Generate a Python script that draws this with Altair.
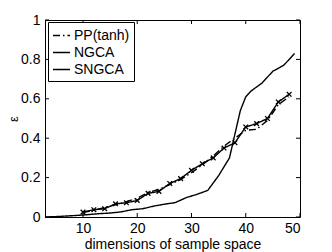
import altair as alt
import pandas as pd

FONT = "Liberation Sans"

series_order = ["PP(tanh)", "NGCA", "SNGCA"]

x_even = [10, 12, 14, 16, 18, 20, 22, 24, 26, 28, 30, 32, 34, 36, 38, 40, 42, 44, 46, 48]
ngca_y = [0.025, 0.037, 0.042, 0.067, 0.072, 0.084, 0.12, 0.13, 0.17, 0.195,
          0.237, 0.27, 0.30, 0.35, 0.377, 0.457, 0.474, 0.50, 0.584, 0.623]
pp_y = [0.022, 0.035, 0.048, 0.062, 0.078, 0.095, 0.125, 0.14, 0.165, 0.19,
        0.225, 0.265, 0.31, 0.36, 0.40, 0.44, 0.445, 0.49, 0.57, 0.61]

sngca_x = [3, 5, 7, 10, 13, 15, 17, 19, 21, 23, 25, 27, 29, 31, 33, 35, 37,
           38, 39, 40, 41, 43, 45, 47, 49]
sngca_y = [0, 0.002, 0.005, 0.01, 0.017, 0.02, 0.026, 0.037, 0.042, 0.055,
           0.065, 0.073, 0.098, 0.115, 0.135, 0.21, 0.3, 0.42, 0.54, 0.61,
           0.64, 0.68, 0.74, 0.77, 0.83]

x_ticks = [10, 20, 30, 40, 50]
y_ticks = [0, 0.2, 0.4, 0.6, 0.8, 1]

rows = []
for x, y in zip(x_even, pp_y):
    rows.append({"x": x, "y": y, "series": "PP(tanh)"})
for x, y in zip(x_even, ngca_y):
    rows.append({"x": x, "y": y, "series": "NGCA"})
for x, y in zip(sngca_x, sngca_y):
    rows.append({"x": x, "y": y, "series": "SNGCA"})
df = pd.DataFrame(rows)
df_ngca = pd.DataFrame({"x": x_even, "y": ngca_y})
df_xt = pd.DataFrame({"x": x_ticks})
df_yt = pd.DataFrame({"y": y_ticks})

W, H = 255, 197
TL = 4

x_scale = alt.Scale(domain=[3, 50], nice=False)
y_scale = alt.Scale(domain=[0, 1], nice=False)

axis_common = dict(ticks=False, grid=False, domain=False, labelFont=FONT,
                   titleFont=FONT, labelFontSize=14,
                   titleFontWeight="normal", labelColor="black",
                   titleColor="black")

X = alt.X("x:Q", scale=x_scale,
          axis=alt.Axis(values=x_ticks, title="dimensions of sample space",
                        labelPadding=4, titlePadding=2, titleFontSize=14,
                        **axis_common))
Y = alt.Y("y:Q", scale=y_scale,
          axis=alt.Axis(values=y_ticks, format=".1~f", title="ε",
                        labelPadding=5, titlePadding=0, titleFontSize=13,
                        **axis_common))

lines = alt.Chart(df).mark_line(strokeWidth=1.4, color="black").encode(
    x=X,
    y=Y,
    strokeDash=alt.StrokeDash(
        "series:N",
        scale=alt.Scale(domain=series_order, range=[[7, 3, 1.5, 3], [1, 0], [1, 0]]),
        legend=alt.Legend(orient="none", legendX=3, legendY=2, title=None,
                          symbolType="stroke", symbolSize=289,
                          symbolStrokeWidth=1.5, symbolStrokeColor="black",
                          labelFont=FONT, labelFontSize=14, labelColor="black",
                          labelOffset=3, rowPadding=0, padding=4,
                          strokeColor="black", fillColor="white")),
    detail="series:N",
)

marks = alt.Chart(df_ngca).mark_point(
    shape="M-1,-1L1,1M-1,1L1,-1", size=22, filled=False, color="black",
    strokeWidth=1.3, opacity=1
).encode(x=X, y=Y)

tick_style = dict(color="black", strokeWidth=1)
xb = alt.Chart(df_xt).mark_rule(**tick_style).encode(
    x=X, y=alt.value(H), y2=alt.value(H - TL))
xtp = alt.Chart(df_xt).mark_rule(**tick_style).encode(
    x=X, y=alt.value(0), y2=alt.value(TL))
yl = alt.Chart(df_yt).mark_rule(**tick_style).encode(
    y=Y, x=alt.value(0), x2=alt.value(TL))
yr = alt.Chart(df_yt).mark_rule(**tick_style).encode(
    y=Y, x=alt.value(W), x2=alt.value(W - TL))

chart = alt.layer(lines, marks, xb, xtp, yl, yr).properties(
    width=W, height=H,
    autosize=alt.AutoSizeParams(type="none"),
    padding={"left": 37, "top": 12, "right": 24, "bottom": 36},
    background="white",
).configure_view(stroke="black", strokeWidth=1)

chart.save("out.html", embed_options={"renderer": "svg", "actions": False})
